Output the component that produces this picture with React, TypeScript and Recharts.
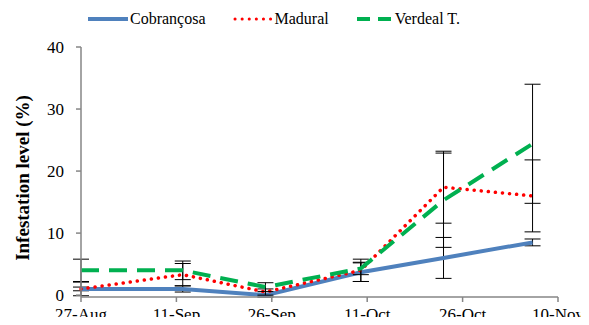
import { ErrorBar, Line, LineChart, XAxis, YAxis } from 'recharts'

// days counted from 27-Aug
const DAYS = [0, 16, 29, 44, 57, 71]
const TICK_DAYS = [0, 15, 30, 45, 60, 75]
const TICK_LABELS = ['27-Aug', '11-Sep', '26-Sep', '11-Oct', '26-Oct', '10-Nov']
const Y_TICKS = [0, 10, 20, 30, 40]

const COBRANCOSA = [1, 1, 0, 3.7, 6, 8.5]
const COBRANCOSA_ERR = [0.3, 0.5, 0.3, 1.5, 3.3, 0.55]
const MADURAL = [1, 3.3, 0.5, 4, 17.4, 16]
const MADURAL_ERR = [1.1, 1.8, 0.5, 1.8, 5.8, 5.8]
const VERDEAL = [4, 4, 1.3, 4.3, 15.3, 24.4]
const VERDEAL_ERR = [1.8, 1.5, 0.7, 1.0, 7.6, 9.6]

const data = DAYS.map((d, i) => ({
  day: d,
  cob: COBRANCOSA[i],
  cobErr: COBRANCOSA_ERR[i],
  mad: MADURAL[i],
  madErr: MADURAL_ERR[i],
  ver: VERDEAL[i],
  verErr: VERDEAL_ERR[i],
}))

const SERIF = 'Liberation Serif, Times New Roman, Tinos, DejaVu Serif, serif'
const AXIS_GREY = '#868686'

function XTick({ x, y, payload }: any) {
  const idx = TICK_DAYS.indexOf(payload.value)
  return (
    <text x={x} y={y} dy="0.71em" textAnchor="middle" style={{ fontFamily: SERIF }} fontSize={17} fill="#000">
      {TICK_LABELS[idx]}
    </text>
  )
}

function YTick({ x, y, payload }: any) {
  return (
    <text x={x} y={y} dy="0.35em" textAnchor="end" style={{ fontFamily: SERIF }} fontSize={17} fill="#000">
      {payload.value}
    </text>
  )
}

function YLabel({ viewBox }: any) {
  const cx = viewBox.x + 1
  const cy = viewBox.y + viewBox.height / 2 + 6
  return (
    <text
      x={cx}
      y={cy}
      transform={`rotate(-90, ${cx}, ${cy})`}
      textAnchor="middle"
      dominantBaseline="central"
      style={{ fontFamily: SERIF }}
      fontWeight="bold"
      fontSize={19}
      fill="#000"
    >
      Infestation level (%)
    </text>
  )
}

function LegendRow() {
  const item = { display: 'flex', alignItems: 'center' } as const
  return (
    <div
      style={{
        position: 'absolute',
        top: 10,
        left: 88,
        display: 'flex',
        fontFamily: SERIF,
        fontSize: 16,
        color: '#000',
      }}
    >
      <div style={item}>
        <svg width={42} height={8}>
          <line x1={0} y1={4} x2={40} y2={4} stroke="#4F81BD" strokeWidth={4} />
        </svg>
        <span>Cobrançosa</span>
      </div>
      <div style={{ ...item, marginLeft: 27 }}>
        <svg width={42} height={8}>
          <line x1={2} y1={4} x2={40} y2={4} stroke="#FF0000" strokeWidth={3} strokeDasharray="0.1 7" strokeLinecap="round" />
        </svg>
        <span>Madural</span>
      </div>
      <div style={{ ...item, marginLeft: 28 }}>
        <svg width={38} height={8}>
          <line x1={0} y1={4} x2={34} y2={4} stroke="#00B050" strokeWidth={4} strokeDasharray="13 8" />
        </svg>
        <span>Verdeal T.</span>
      </div>
    </div>
  )
}

export default function App() {
  return (
    <div style={{ position: 'relative', width: 589, height: 325, margin: -8, background: '#fff' }}>
      <LegendRow />
      <LineChart width={589} height={325} data={data} margin={{ top: 47, right: 31, bottom: 0, left: 21 }}>
        <XAxis
          dataKey="day"
          type="number"
          domain={[0, 75]}
          ticks={TICK_DAYS}
          tick={<XTick />}
          tickSize={5}
          tickMargin={6}
          height={28}
          axisLine={{ stroke: AXIS_GREY, strokeWidth: 1.5 }}
          tickLine={{ stroke: AXIS_GREY, strokeWidth: 1.5 }}
        />
        <YAxis
          type="number"
          domain={[0, 40]}
          ticks={Y_TICKS}
          tick={<YTick />}
          tickSize={5}
          tickMargin={12}
          width={60}
          axisLine={{ stroke: AXIS_GREY, strokeWidth: 1.5 }}
          tickLine={{ stroke: AXIS_GREY, strokeWidth: 1.5 }}
          label={<YLabel />}
        />
        <Line
          type="linear"
          dataKey="cob"
          stroke="#4F81BD"
          strokeWidth={4}
          dot={false}
          activeDot={false}
          isAnimationActive={false}
        >
          <ErrorBar dataKey="cobErr" direction="y" width={8} stroke="#000" strokeWidth={1} />
        </Line>
        <Line
          type="linear"
          dataKey="mad"
          stroke="#FF0000"
          strokeWidth={3.5}
          strokeDasharray="0.1 7"
          strokeLinecap="round"
          dot={false}
          activeDot={false}
          isAnimationActive={false}
        >
          <ErrorBar dataKey="madErr" direction="y" width={8} stroke="#000" strokeWidth={1} />
        </Line>
        <Line
          type="linear"
          dataKey="ver"
          stroke="#00B050"
          strokeWidth={4}
          strokeDasharray="18 10"
          dot={false}
          activeDot={false}
          isAnimationActive={false}
        >
          <ErrorBar dataKey="verErr" direction="y" width={8} stroke="#000" strokeWidth={1} />
        </Line>
      </LineChart>
    </div>
  )
}
